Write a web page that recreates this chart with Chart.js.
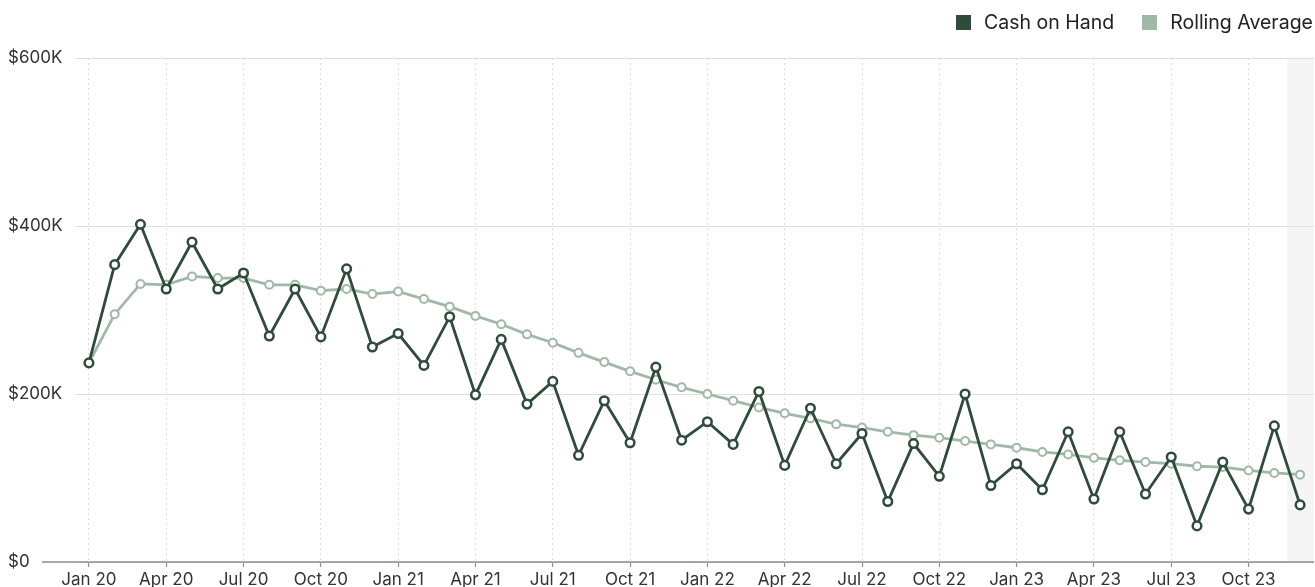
<!DOCTYPE html>
<html>
<head>
<meta charset="utf-8">
<script src="https://cdn.jsdelivr.net/npm/chart.js@4.4.1/dist/chart.umd.min.js"></script>
<style>
    html, body { margin: 0; padding: 0; background: #fff; overflow: hidden; }
    .wrap { position: relative; width: 1315px; height: 587px; }
    canvas { display: block; }
    #legend { position: absolute; top: 10px; right: 2px; display: flex; gap: 28px; font-family: Inter, sans-serif; font-size: 19.5px; color: #222; }
    #legend .item { display: flex; align-items: center; gap: 13px; }
    #legend .box { width: 15px; height: 15px; display: inline-block; }
</style>
</head>
<body>
<div class="wrap">
    <canvas id="cashChart" width="1315" height="587"></canvas>
    <div id="legend"></div>
</div>
<script>
// monthly categories
const months = [
    'Jan 20', 'Feb 20', 'Mar 20', 'Apr 20', 'May 20', 'Jun 20', 'Jul 20', 'Aug 20', 'Sep 20', 'Oct 20', 'Nov 20', 'Dec 20',
    'Jan 21', 'Feb 21', 'Mar 21', 'Apr 21', 'May 21', 'Jun 21', 'Jul 21', 'Aug 21', 'Sep 21', 'Oct 21', 'Nov 21', 'Dec 21',
    'Jan 22', 'Feb 22', 'Mar 22', 'Apr 22', 'May 22', 'Jun 22', 'Jul 22', 'Aug 22', 'Sep 22', 'Oct 22', 'Nov 22', 'Dec 22',
    'Jan 23', 'Feb 23', 'Mar 23', 'Apr 23', 'May 23', 'Jun 23', 'Jul 23', 'Aug 23', 'Sep 23', 'Oct 23', 'Nov 23', 'Dec 23'
];

// values in $K
const cashOnHand = [
    237, 354, 402, 325, 381, 325, 344, 269, 325, 268, 349, 256,
    272, 234, 292, 199, 265, 188, 215, 127, 192, 142, 232, 145,
    167, 140, 203, 115, 183, 117, 153, 72, 141, 102, 200, 91,
    117, 86, 155, 75, 155, 81, 125, 43, 119, 63, 162, 68
];
const rollingAverage = [
    237, 295, 331, 330, 340, 338, 338, 330, 330, 323, 325, 319,
    322, 313, 304, 293, 283, 271, 261, 249, 238, 227, 217, 208,
    200, 192, 184, 177, 171, 164, 160, 155, 151, 148, 144, 140,
    136, 131, 128, 124, 121, 119, 117, 114, 113, 109, 106, 104
];

// quarterly tick labels on the x axis
const tickLabels = ['Jan 20', 'Apr 20', 'Jul 20', 'Oct 20', 'Jan 21', 'Apr 21', 'Jul 21', 'Oct 21',
    'Jan 22', 'Apr 22', 'Jul 22', 'Oct 22', 'Jan 23', 'Apr 23', 'Jul 23', 'Oct 23'];
const yTicks = [0, 200, 400, 600];

// shaded period at the end (from halfway Nov 23 -> Dec 23)
const highlightFrom = 46.5;

const DARK = '#2f4b3b';
const LIGHT = '#a0b9a6';
const FONT = 'Inter, sans-serif';

const toPoints = (arr) => arr.map((v, i) => ({ x: i, y: v }));

const shadePlugin = {
    id: 'shade',
    beforeDraw: (chart) => {
        const { ctx, chartArea, scales } = chart;
        const x0 = scales.x.getPixelForValue(highlightFrom);
        ctx.save();
        ctx.fillStyle = '#f5f5f5';
        ctx.fillRect(x0, chartArea.top, chartArea.right - x0, chartArea.bottom - chartArea.top);
        ctx.restore();
    }
};

const baselinePlugin = {
    id: 'baseline',
    beforeDatasetsDraw: (chart) => {
        const { ctx, chartArea } = chart;
        const y = chart.scales.y.getPixelForValue(0);
        ctx.save();
        ctx.strokeStyle = '#8c8c8c';
        ctx.lineWidth = 1.5;
        ctx.beginPath();
        ctx.moveTo(42, y);
        ctx.lineTo(chartArea.right, y);
        ctx.stroke();
        ctx.restore();
    }
};

const chart = new Chart(document.getElementById('cashChart').getContext('2d'), {
    type: 'line',
    data: {
        datasets: [
            {
                label: 'Cash on Hand',
                data: toPoints(cashOnHand),
                borderColor: DARK,
                backgroundColor: DARK,
                borderWidth: 2.8,
                pointRadius: 4.3,
                pointBorderWidth: 2.5,
                pointBackgroundColor: '#fff',
                pointBorderColor: DARK,
                tension: 0
            },
            {
                label: 'Rolling Average',
                data: toPoints(rollingAverage),
                borderColor: LIGHT,
                backgroundColor: LIGHT,
                borderWidth: 2.8,
                pointRadius: 4,
                pointBorderWidth: 2,
                pointBackgroundColor: '#fff',
                pointBorderColor: LIGHT,
                tension: 0
            }
        ]
    },
    options: {
        responsive: false,
        animation: false,
        layout: { autoPadding: false, padding: { top: 58, left: 8, right: 1, bottom: 0 } },
        scales: {
            x: {
                type: 'linear',
                min: -0.54,
                max: 47.54,
                afterBuildTicks: (scale) => {
                    scale.ticks = tickLabels.map(l => ({ value: months.indexOf(l) }));
                },
                afterFit: (scale) => {
                    scale.height = 25;
                    scale.paddingLeft = 0;
                    scale.paddingRight = 0;
                },
                ticks: {
                    callback: (v) => months[v],
                    color: '#333',
                    font: { family: FONT, size: 17 },
                    padding: 3,
                    maxRotation: 0,
                    autoSkip: false
                },
                grid: {
                    color: '#dcdcdc',
                    lineWidth: 1,
                    drawTicks: true,
                    tickLength: 5,
                    tickColor: '#8c8c8c',
                    tickWidth: 1.2,
                    tickBorderDash: []
                },
                border: { display: false, dash: [2, 3] }
            },
            y: {
                min: 0,
                max: 600,
                afterBuildTicks: (scale) => {
                    scale.ticks = yTicks.map(v => ({ value: v }));
                },
                afterFit: (scale) => { scale.width = 67; },
                ticks: {
                    callback: (v) => v === 0 ? '$0' : '$' + v + 'K',
                    color: '#333',
                    font: { family: FONT, size: 17 },
                    crossAlign: 'far',
                    padding: 8
                },
                grid: { color: '#e0e0e0', lineWidth: 1, drawTicks: false },
                border: { display: false }
            }
        },
        plugins: {
            legend: { display: false },
            tooltip: { enabled: false }
        }
    },
    plugins: [shadePlugin, baselinePlugin]
});

// html legend built from the datasets
document.getElementById('legend').innerHTML = chart.data.datasets.map(ds =>
    `<span class="item"><span class="box" style="background:${ds.borderColor}"></span>${ds.label}</span>`
).join('');
</script>
</body>
</html>
